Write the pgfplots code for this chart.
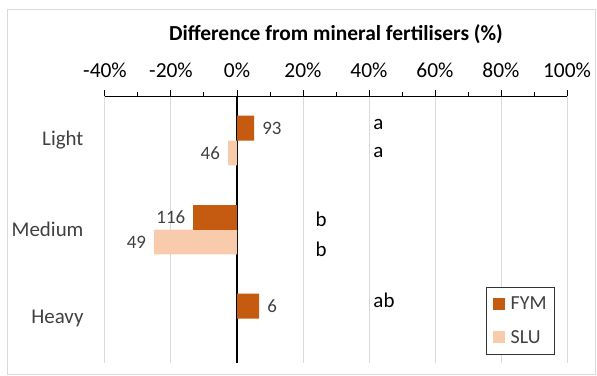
\documentclass[border=0pt]{standalone}
\usepackage{pgfplots}
\pgfplotsset{compat=1.18}
\usepackage{fontspec}
\setmainfont{Carlito}
\definecolor{fym}{HTML}{C55A11}
\definecolor{slu}{HTML}{F8CBAD}
\definecolor{gridc}{HTML}{D9D9D9}
\definecolor{txt}{HTML}{404040}
\begin{document}
\begin{tikzpicture}
\useasboundingbox (-105bp,-13bp) rectangle (492bp,363bp);
\draw[gridc, line width=0.8bp] (-98bp,-11bp) rectangle (490bp,354bp);
\node[anchor=base, font=\fontsize{21.5}{25}\selectfont\bfseries] at (231bp,322bp) {Difference from mineral fertilisers (\%)};
\begin{axis}[
  at={(0,0)}, anchor=south west,
  scale only axis, width=462bp, height=267bp,
  xmin=-40, xmax=100, ymin=-0.5, ymax=2.5, y dir=reverse,
  xbar, bar width=0.28,
  axis x line*=top, axis y line*=left,
  y axis line style={draw=none},
  x axis line style={line width=1bp, black, -},
  ytick={0,1,2}, yticklabels={Light,Medium,Heavy},
  ytick style={draw=none},
  yticklabel style={font=\fontsize{21}{25}\selectfont, text=txt, xshift=-12bp},
  xtick={-40,-20,...,100}, minor xtick={-30,-10,...,90},
  xticklabel={\pgfmathprintnumber{\tick}\%},
  /pgf/number format/assume math mode=true,
  xticklabel style={font=\fontsize{21.5}{25}\selectfont, text=black, yshift=9bp},
  tick align=outside, major tick length=6bp, minor tick length=4bp,
  xtick style={black, line width=1bp},
  xmajorgrids, major grid style={gridc, line width=1bp},
  extra x ticks={0}, extra x tick labels={},
  extra x tick style={grid=major, major grid style={black, line width=1.3bp}},
  legend style={at={(1,0)}, anchor=south east, xshift=-12bp, yshift=8bp,
    draw=black!80, line width=0.8bp, font=\fontsize{20}{24}\selectfont, text=txt,
    row sep=15bp, inner xsep=6bp, inner ysep=8bp},
  legend cell align=left,
  legend image code/.code={\fill[#1] (0bp,-6bp) rectangle (12bp,6bp); \path (16bp,0bp);},
]
\addplot[fill=fym, draw=none, bar shift=-0.14, point meta=explicit symbolic, nodes near coords,
  every node near coord/.append style={anchor=west, inner xsep=8bp, font=\fontsize{19}{22}\selectfont, text=txt}]
  coordinates {(5.2,0) [93] (6.7,2) [6]};
\addlegendentry{FYM}
\addplot[fill=slu, draw=none, bar shift=0.14, point meta=explicit symbolic, nodes near coords,
  every node near coord/.append style={anchor=east, inner xsep=8bp, font=\fontsize{19}{22}\selectfont, text=txt}]
  coordinates {(-2.7,0) [46] (-25.1,1) [49]};
\addlegendentry{SLU}
\addplot[fill=fym, draw=none, bar shift=-0.14, point meta=explicit symbolic, nodes near coords, forget plot,
  every node near coord/.append style={anchor=east, inner xsep=8bp, font=\fontsize{19}{22}\selectfont, text=txt}]
  coordinates {(-13.2,1) [116]};
\node[anchor=west, inner sep=0pt, font=\fontsize{21}{25}\selectfont] at (axis cs:41.3,-0.185) {a};
\node[anchor=west, inner sep=0pt, font=\fontsize{21}{25}\selectfont] at (axis cs:41.3,0.14) {a};
\node[anchor=west, inner sep=0pt, font=\fontsize{21}{25}\selectfont] at (axis cs:23.8,0.882) {b};
\node[anchor=west, inner sep=0pt, font=\fontsize{21}{25}\selectfont] at (axis cs:23.8,1.22) {b};
\node[anchor=west, inner sep=0pt, font=\fontsize{21}{25}\selectfont] at (axis cs:41.3,1.79) {ab};
\end{axis}
\end{tikzpicture}
\end{document}
